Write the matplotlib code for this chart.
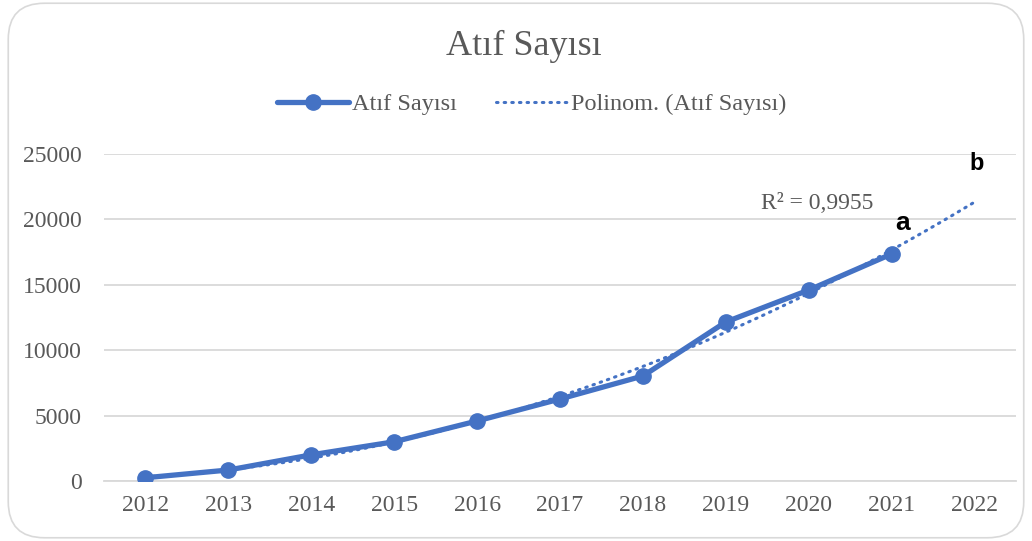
import numpy as np
import matplotlib.pyplot as plt
from matplotlib.patches import FancyBboxPatch

# data
years = [2012, 2013, 2014, 2015, 2016, 2017, 2018, 2019, 2020, 2021]
citations = [250, 840, 2000, 3000, 4590, 6270, 8030, 12160, 14600, 17360]
axis_years = [2012, 2013, 2014, 2015, 2016, 2017, 2018, 2019, 2020, 2021, 2022]
r2_text = "R² = 0,9955"

blue = "#4472C4"
grey = "#595959"
serif = ["Liberation Serif", "DejaVu Serif"]

fig = plt.figure(figsize=(10.32, 5.41), dpi=100)
fig.patch.set_facecolor("white")

# rounded chart border
border = FancyBboxPatch((0.008, 0.006), 0.984, 0.988,
                        boxstyle="round,pad=0,rounding_size=0.035",
                        transform=fig.transFigure, facecolor="none",
                        edgecolor="#D9D9D9", linewidth=1.2, mutation_aspect=1.9)
fig.patches.append(border)

ax = fig.add_axes([0.1008, 0.1109, 0.8837, 0.6044])
ax.set_facecolor("none")

xs = np.arange(len(years))
ax.plot(xs, citations, color=blue, linewidth=3.8, marker="o", markersize=11,
        solid_capstyle="round", label="Atıf Sayısı", zorder=3)

# polynomial (order 2) trend line, forecast one period forward
coef = np.polyfit(xs, citations, 2)
xt = np.linspace(0, len(axis_years) - 1, 200)
ax.plot(xt, np.polyval(coef, xt), color=blue, linewidth=2.2, linestyle=(0, (0.5, 2.0)),
        dash_capstyle="round", label="Polinom. (Atıf Sayısı)", zorder=2)

ax.set_xlim(-0.5, len(axis_years) - 0.5)
ax.set_ylim(0, 25000)
ax.set_xticks(np.arange(len(axis_years)))
ax.set_xticklabels([str(y) for y in axis_years])
ax.set_yticks(np.arange(0, 25001, 5000))
ax.grid(axis="y", color="#D9D9D9", linewidth=1.3)
ax.set_axisbelow(True)
for s in ["top", "right", "left"]:
    ax.spines[s].set_visible(False)
ax.spines["bottom"].set_color("#D9D9D9")
ax.spines["bottom"].set_linewidth(1.3)
ax.tick_params(length=0, labelsize=17, labelcolor=grey, pad=10)
for lab in ax.get_xticklabels() + ax.get_yticklabels():
    lab.set_family(serif)
ax.tick_params(axis="y", pad=16)

ax.text(8.1, 21200, r2_text, fontsize=17, color=grey, family=serif, ha="center", va="center")
ax.text(9.13, 19700, "a", fontsize=19, fontweight="bold", family="Liberation Sans",
        ha="center", va="center")
ax.text(10.02, 24300, "b", fontsize=17, fontweight="bold", family="Liberation Sans",
        ha="center", va="center")

fig.text(0.508, 0.915, "Atıf Sayısı", fontsize=26, color=grey, family=serif,
         ha="center", va="center")
leg = fig.legend(loc="center", bbox_to_anchor=(0.515, 0.807), ncol=2, frameon=False,
                 prop={"family": serif, "size": 17.5}, handlelength=3.0,
                 columnspacing=1.6, handletextpad=0.1)
for t in leg.get_texts():
    t.set_color(grey)

fig.savefig("out.png", dpi=100)
